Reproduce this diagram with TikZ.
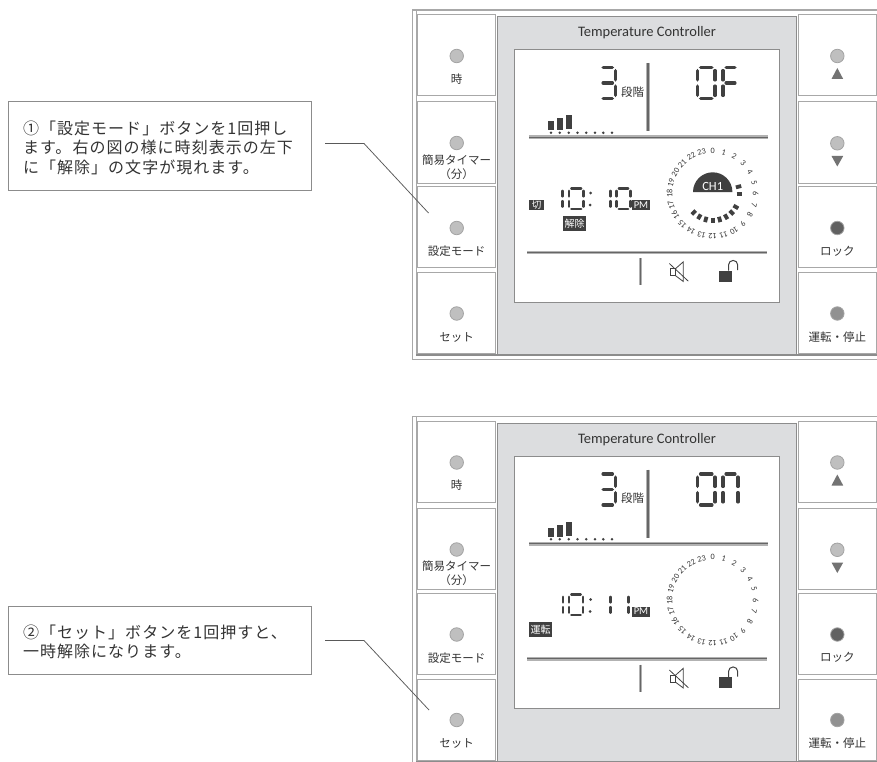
\documentclass[tikz,border=0pt]{standalone}
\usepackage{fontspec}
\setmainfont{Noto Sans CJK JP}
\newfontfamily\latinf{Carlito}
\newfontfamily\callfont[LetterSpace=6.5]{Noto Sans CJK JP}
\usetikzlibrary{calc}
\definecolor{ink}{HTML}{333333}
\definecolor{seg}{HTML}{404040}
\definecolor{framec}{HTML}{A8A8A8}
\definecolor{panelc}{HTML}{DCDDDF}
\definecolor{edgec}{HTML}{8C8C8C}
\tikzset{
  frameline/.style={draw=framec,line width=1.4pt},
  btn/.style={draw=framec,line width=1pt,fill=white,rectangle,inner sep=0pt,minimum width=77.5pt,minimum height=81pt},
  led/.style={circle,draw=edgec!80,line width=.8pt,fill=#1,minimum size=13.5pt,inner sep=0pt},
  led/.default={black!25},
  btnlabel/.style={text=ink,inner sep=0pt,font=\fontsize{11.5}{13}\selectfont},
  ridge/.style={draw=black!30,line width=3.6pt,postaction={draw=black!60,line width=1.2pt}},
  tagbox/.style={fill=seg,text=white,inner sep=0pt,font=\fontsize{#1}{10}\selectfont},
  tagbox/.default={9.5},
  leader/.style={draw=black!65,line width=.75pt},
  hourlab/.style={text=ink,inner sep=0pt,font=\latinf\fontsize{8.2}{8.2}\selectfont},
  segstroke/.style={draw=seg,line cap=round},
  callframe/.style={draw=edgec,line width=1pt,fill=white,minimum width=303pt,inner sep=0pt},
  calltext/.style={inner sep=0pt,text width=276pt,align=left,text=ink,font=\callfont\fontsize{16}{19.5}\selectfont},
}
\def\SEGa{(\X+\G,\Y)--(\X+\W-\G,\Y)}
\def\SEGb{(\X+\W,\Y+\G)--(\X+\W,\Y+\H/2-\G)}
\def\SEGc{(\X+\W,\Y+\H/2+\G)--(\X+\W,\Y+\H-\G)}
\def\SEGd{(\X+\G,\Y+\H)--(\X+\W-\G,\Y+\H)}
\def\SEGe{(\X,\Y+\H/2+\G)--(\X,\Y+\H-\G)}
\def\SEGf{(\X,\Y+\G)--(\X,\Y+\H/2-\G)}
\def\SEGg{(\X+\G,\Y+\H/2)--(\X+\W-\G,\Y+\H/2)}
% x y w h linewidth segments
\newcommand\sevenseg[6]{%
  \def\X{#1}\def\Y{#2}\def\W{#3}\def\H{#4}%
  \pgfmathsetmacro\G{#5*0.9}%
  \foreach \s in {#6}{%
    \expandafter\let\expandafter\curseg\csname SEG\s\endcsname
    \draw[segstroke,line width=#5pt] \curseg;
  }%
}
\newcommand\panelbase[1]{%
  \draw[frameline] (412.7,10) rectangle (885,359.5);
  \draw[draw=framec,line width=1pt] (416.3,10) -- (416.3,355);
  \fill[panelc] (497.5,17) rectangle (796.7,354);
  \draw[draw=edgec,line width=1pt] (497.5,354) -- (497.5,17) -- (796.7,17) -- (796.7,354);
  \draw[draw=edgec,line width=1.6pt] (416.3,355) -- (885,355);
  \node[fill=white,draw=edgec,line width=1pt,minimum width=265pt,minimum height=252pt,inner sep=0pt] (#1lcd) at (646.8,176) {};
  \node[text=ink,inner sep=0pt,font=\latinf\fontsize{14.5}{16}\selectfont] (#1title) at (647,33) {Temperature Controller};
  % buttons
  \node[btn] (#1bl1) at (456.5,55.5) {};
  \node[btn] (#1bl2) at (456.5,142.5) {};
  \node[btn] (#1bl3) at (456.5,227.3) {};
  \node[btn] (#1bl4) at (456.5,313) {};
  \node[btn] (#1br1) at (837.5,55.5) {};
  \node[btn] (#1br2) at (837.5,142.5) {};
  \node[btn] (#1br3) at (837.5,227.3) {};
  \node[btn] (#1br4) at (837.5,313) {};
  \node[led] (#1ll1) at (456.7,56) {};
  \node[led] (#1ll2) at (456.7,143) {};
  \node[led] (#1ll3) at (456.7,228) {};
  \node[led] (#1ll4) at (456.7,313.5) {};
  \node[led] (#1lr1) at (837.3,56) {};
  \node[led] (#1lr2) at (837.3,143.3) {};
  \node[led={black!62}] (#1lr3) at (837.3,228) {};
  \node[led={black!43}] (#1lr4) at (837.3,313.5) {};
  \fill[black!55] (831.5,79) -- (837.3,68) -- (843.2,79) -- cycle;
  \fill[black!55] (831.5,156) -- (837.3,166.5) -- (843.2,156) -- cycle;
  \node[btnlabel] (#1t1) at (456.7,79) {時};
  \node[btnlabel] (#1t2) at (456.7,160) {簡易タイマー};
  \node[btnlabel] (#1t2b) at (456.7,174) {（分）};
  \node[btnlabel] (#1t3) at (456.7,251.5) {設定モード};
  \node[btnlabel] (#1t4) at (456.7,337) {セット};
  \node[btnlabel] (#1t5) at (837.3,251) {ロック};
  \node[btnlabel] (#1t6) at (837.3,337) {運転・停止};
  % level display
  \sevenseg{600}{67.5}{15.5}{31}{3.6}{a,b,c,d,g}
  \node[btnlabel] (#1lv) at (632.5,92) {段階};
  \draw[ridge] (648,63) -- (648,131);
  \fill[seg] (548,121) rectangle (554,130);
  \fill[seg] (557,118) rectangle (563,130);
  \fill[seg] (566,115) rectangle (572,129.5);
  \foreach \dx in {551,559.7,568.7,577.5,586.2,595,603.3,612}{\fill[seg] (\dx,132.8) circle (1.4);}
  \draw[ridge] (529,137.2) -- (768,137.2);
  \draw[ridge] (527,252.3) -- (767,252.3);
  \draw[ridge] (640.3,258) -- (640.3,285);
  % speaker
  \draw[draw=seg,line width=.8pt] (670.3,268.5) rectangle (675.7,275.8);
  \draw[draw=seg,line width=.8pt] (675.7,268.5) -- (683.3,261.8) -- (683.3,281.5) -- (675.7,275.8);
  \draw[draw=seg,line width=.8pt] (669.3,263.5) -- (688.3,281.2);
  % padlock
  \fill[seg] (719,270.5) rectangle (732,281.5);
  \draw[draw=seg,line width=1pt] (728.5,270.5) -- (728.5,265) arc[start angle=180,end angle=360,radius=4.6] -- (737.7,270);
  % hours
  \foreach \h in {0,...,23}{
    \node[hourlab,rotate=-15*\h] at ({712.7+43*sin(15*\h)},{193.6-43*cos(15*\h)}) {\h};
  }
}
\begin{document}
\begin{tikzpicture}[x=1pt,y=-1pt]
\useasboundingbox (0,0) rectangle (877,762);
\clip (0,0) rectangle (877,762);
\fill[white] (0,0) rectangle (877,762);

% ---- upper panel
\begin{scope}
\panelbase{a}
\sevenseg{697.5}{67.5}{17.5}{31}{3.6}{a,b,c,d,e,f}
\sevenseg{723}{67.5}{15}{31}{3.6}{a,e,f,g}
\sevenseg{562.3}{188.5}{0.001}{20.5}{2.6}{b,c}
\sevenseg{569}{188.5}{14.5}{20.5}{2.6}{a,b,c,d,e,f}
\fill[seg] (590.5,193) circle (1.5) (590.2,205) circle (1.5);
\sevenseg{610.5}{188.5}{0.001}{20.5}{2.6}{b,c}
\sevenseg{616.5}{188.5}{14}{20.5}{2.6}{a,b,c,d,e,f}
\node[tagbox,font=\latinf\fontsize{10.5}{10}\selectfont,minimum width=18pt,minimum height=10pt] (apm) at (641,205) {PM};
\node[tagbox,minimum width=15pt,minimum height=10pt] (acut) at (536.5,205) {切};
\node[tagbox=10,minimum width=23pt,minimum height=15pt] (arel) at (574.7,223.3) {解除};
% channel
\fill[seg] (693,192) arc[start angle=180,end angle=360,radius=19.7] -- cycle;
\node[text=white,inner sep=0pt,font=\latinf\fontsize{12.5}{13}\selectfont] (ach) at (712.7,186) {CH1};
\foreach \h in {5,6,8,9,10,11,12,13,14,15}{
  \draw[draw=seg,line width=3.8pt] ({712.7+24*sin(15*\h)},{193.6-24*cos(15*\h)}) -- ({712.7+29.5*sin(15*\h)},{193.6-29.5*cos(15*\h)});
}
\end{scope}

% ---- lower panel
\begin{scope}[yshift=-406.5pt]
\panelbase{b}
\sevenseg{697.5}{67.5}{17.5}{31}{3.6}{a,b,c,d,e,f}
\sevenseg{723}{67.5}{15}{31}{3.6}{a,b,c,e,f}
\sevenseg{563}{188}{0.001}{20.5}{2.6}{b,c}
\sevenseg{569}{188}{14}{20.5}{2.6}{a,b,c,d,e,f}
\fill[seg] (590.5,193) circle (1.5) (590.2,205) circle (1.5);
\sevenseg{610.7}{188}{0.001}{20.5}{2.6}{b,c}
\sevenseg{628.3}{188}{0.001}{20.5}{2.6}{b,c}
\node[tagbox,font=\latinf\fontsize{10.5}{10}\selectfont,minimum width=18pt,minimum height=10pt] (bpm) at (641,205) {PM};
\node[tagbox=10,minimum width=23pt,minimum height=15pt] (brun) at (540.5,223) {運転};
\end{scope}

% ---- callouts
\node[callframe,minimum height=88pt] (call1) at (159.5,146) {};
\node[calltext] (text1) at (161,147.5) {①「設定モード」ボタンを1回押し\\ます。右の図の様に時刻表示の左下\\に「解除」の文字が現れます。};
\node[callframe,minimum height=68pt] (call2) at (159.5,640) {};
\node[calltext] (text2) at (161,642) {②「セット」ボタンを1回押すと、\\一時解除になります。};
\coordinate (k1a) at (325,143.5);
\coordinate (k1b) at (364,143.5);
\coordinate (k1c) at (428.5,213);
\coordinate (k2a) at (325,640.5);
\coordinate (k2b) at (364,640.5);
\coordinate (k2c) at (429,710);
\draw[leader] (k1a) -- (k1b) -- (k1c);
\draw[leader] (k2a) -- (k2b) -- (k2c);
\end{tikzpicture}
\end{document}
